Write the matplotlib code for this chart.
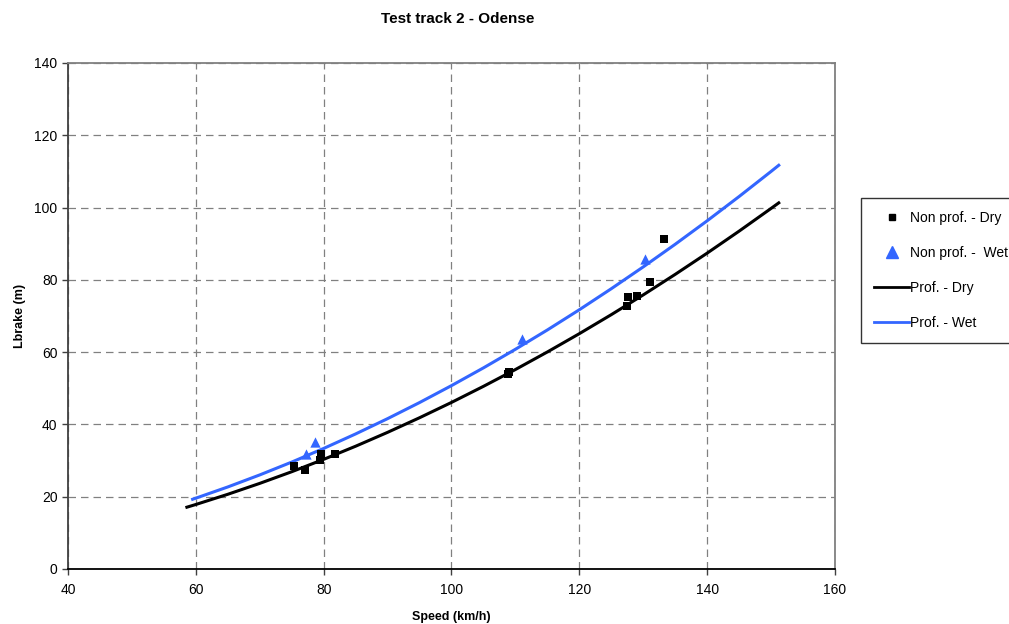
import matplotlib
matplotlib.use("Agg")
import matplotlib.pyplot as plt
from matplotlib.lines import Line2D

plt.rcParams['font.family'] = ['Liberation Sans', 'DejaVu Sans']

# Measured points
dry_speed = [75.4, 77.1, 79.4, 79.6, 81.8, 108.9, 109.0, 127.4, 127.6, 129.1, 131.0, 133.3]
dry_lbrake = [28.5, 27.4, 30.2, 31.8, 31.8, 54.0, 54.6, 72.8, 75.3, 75.6, 79.5, 91.2]
wet_speed = [77.2, 78.6, 111.0, 130.2]
wet_lbrake = [31.8, 35.1, 63.6, 85.7]

# Curves
prof_dry_speed = [58.6, 60, 65, 70, 75, 80, 85, 90, 95, 100, 105, 110, 115, 120, 125, 130, 135, 140, 145, 150, 151.2]
prof_dry_lbrake = [17.1, 17.85, 20.67, 23.69, 26.91, 30.34, 33.97, 37.81, 41.85, 46.09, 50.54, 55.19,
                   60.05, 65.11, 70.37, 75.84, 81.52, 87.40, 93.48, 99.77, 101.3]
prof_wet_speed = [59.5, 60, 65, 70, 75, 80, 85, 90, 95, 100, 105, 110, 115, 120, 125, 130, 135, 140, 145, 150, 151.2]
prof_wet_lbrake = [19.3, 19.6, 22.70, 26.03, 29.58, 33.36, 37.37, 41.60, 46.05, 50.74, 55.65, 60.79,
                   66.14, 71.73, 77.55, 83.59, 89.85, 96.34, 103.06, 110.0, 111.7]

x_ticks = [40, 60, 80, 100, 120, 140, 160]
y_ticks = [0, 20, 40, 60, 80, 100, 120, 140]

BLUE = '#3366FF'

fig = plt.figure(figsize=(10.09, 6.24), dpi=100)
ax = fig.add_axes([68/1009, 1-569/624, (835-68)/1009, (569-63)/624])

ax.plot(prof_dry_speed, prof_dry_lbrake, color='black', lw=2.2, zorder=3)
ax.plot(prof_wet_speed, prof_wet_lbrake, color=BLUE, lw=2.2, zorder=3)
ax.scatter(dry_speed, dry_lbrake, marker='s', s=30, color='black', zorder=4, linewidths=0)
ax.scatter(wet_speed, wet_lbrake, marker='^', s=55, color=BLUE, zorder=4, linewidths=0)

ax.set_xlim(40, 160)
ax.set_ylim(0, 140)
ax.set_xticks(x_ticks)
ax.set_yticks(y_ticks)
ax.tick_params(labelsize=10, length=4, width=1, direction='out', colors='#404040', labelcolor='black')
ax.tick_params(axis='x', pad=6)
ax.grid(True, color='#808080', linestyle=(0, (6, 4)), lw=0.9)
ax.set_axisbelow(True)
ax.spines['left'].set_color('#404040')
ax.spines['bottom'].set_color('black')
ax.spines['top'].set_color('#808080')
ax.spines['right'].set_color('#808080')
for s in ax.spines.values():
    s.set_linewidth(1.3)

ax.set_xlabel('Speed (km/h)', fontsize=9, fontweight='bold', labelpad=10)
ax.set_ylabel('Lbrake (m)', fontsize=9, fontweight='bold', labelpad=6)
fig.text(458/1009, 1-19/624, 'Test track 2 - Odense', ha='center', va='center',
         fontsize=11, fontweight='bold')

handles = [
    Line2D([], [], marker='s', color='black', ls='none', markersize=5),
    Line2D([], [], marker='^', color=BLUE, ls='none', markersize=8),
    Line2D([], [], color='black', lw=2),
    Line2D([], [], color=BLUE, lw=2),
]
labels = ['Non prof. - Dry', 'Non prof. -  Wet', 'Prof. - Dry', 'Prof. - Wet']
leg = fig.legend(handles, labels, loc='upper left', bbox_to_anchor=(861/1009, 1-198/624),
                 fontsize=10, frameon=True, fancybox=False, edgecolor='black',
                 labelspacing=1.5, handlelength=2.5, handletextpad=0.1, borderpad=0.95,
                 borderaxespad=0)
leg.get_frame().set_linewidth(1.0)

fig.savefig('out.png', dpi=100, facecolor='white')
